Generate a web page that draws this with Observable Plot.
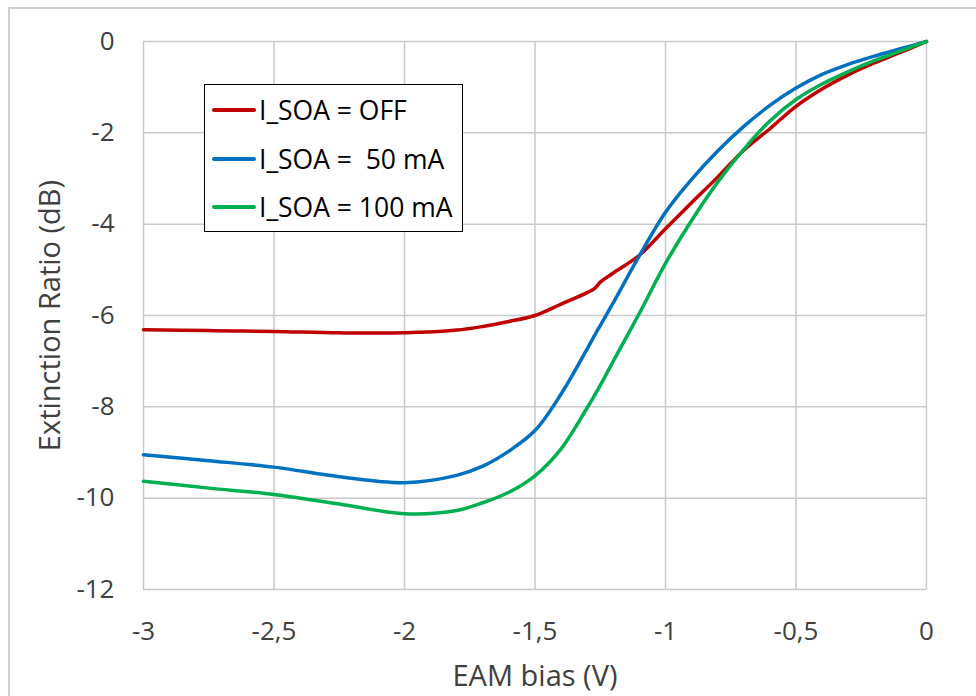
<!DOCTYPE html>
<html>
<head>
<meta charset="utf-8">
<script src="https://cdn.jsdelivr.net/npm/d3@7"></script>
<script src="https://cdn.jsdelivr.net/npm/@observablehq/plot@0.6"></script>
<style>
  html, body { margin: 0; padding: 0; background: #fff; overflow: hidden; width: 976px; height: 696px; }
  #wrap { position: relative; width: 976px; height: 696px; }
  #frame { position: absolute; left: 8px; top: 7px; width: 1000px; height: 720px; border: 2px solid #d0d0d0; box-sizing: border-box; pointer-events: none; }
  #legend { position: absolute; left: 204px; top: 84px; width: 259px; height: 148px; border: 1.6px solid #000; background: #fff; box-sizing: border-box; font-family: "Open Sans", sans-serif; font-size: 26.5px; color: #000; }
  .row { position: absolute; left: 0; height: 30px; display: flex; align-items: center; white-space: pre; }
  .sw { width: 44px; height: 4px; border-radius: 2px; margin-left: 7px; margin-right: 3px; }
</style>
</head>
<body>
<div id="wrap">
  <div id="chart"></div>
  <div id="legend"></div>
  <div id="frame"></div>
</div>
<script>
// EAM bias (V)
const bias = [-3, -2.75, -2.5, -2.25, -2, -1.8, -1.7, -1.6, -1.5, -1.4, -1.3, -1.27, -1.25, -1.2, -1.1, -1.0, -0.9, -0.8, -0.7, -0.6, -0.5, -0.4, -0.3, -0.2, -0.1, 0];
// Extinction ratio (dB)
const ratioOff = [-6.31, -6.33, -6.35, -6.38, -6.38, -6.32, -6.24, -6.13, -6.00, -5.75, -5.50, -5.40, -5.27, -5.07, -4.68, -4.10, -3.53, -2.97, -2.38, -1.91, -1.42, -1.04, -0.73, -0.47, -0.24, 0];
const ratio50  = [-9.05, -9.18, -9.32, -9.53, -9.66, -9.50, -9.30, -8.97, -8.52, -7.72, -6.73, -6.42, -6.22, -5.72, -4.69, -3.74, -3.02, -2.40, -1.86, -1.40, -1.02, -0.72, -0.50, -0.32, -0.16, 0];
const ratio100 = [-9.63, -9.78, -9.92, -10.13, -10.34, -10.27, -10.10, -9.87, -9.51, -8.92, -8.02, -7.73, -7.53, -7.00, -5.95, -4.86, -3.92, -3.08, -2.36, -1.74, -1.27, -0.93, -0.66, -0.42, -0.21, 0];

const seriesNames = ["I_SOA = OFF", "I_SOA =  50 mA", "I_SOA = 100 mA"];
const seriesColors = ["#c00000", "#0070c0", "#00b050"];
const xTicks = [-3, -2.5, -2, -1.5, -1, -0.5, 0];
const yTicks = [-12, -10, -8, -6, -4, -2, 0];
const xLabel = "EAM bias (V)";
const yLabel = "Extinction Ratio (dB)";

const seriesValues = [ratioOff, ratio50, ratio100];
const data = seriesValues.flatMap((vals, s) => bias.map((b, i) => ({bias: b, ratio: vals[i], series: seriesNames[s]})));

const grid = {stroke: "#c9c9c9", strokeOpacity: 1, strokeWidth: 1.5};
const xFmt = d => String(d).replace(".", ",");
const yFmt = d => String(d);

const chart = Plot.plot({
  width: 976,
  height: 696,
  marginLeft: 143,
  marginRight: 50,
  marginTop: 41,
  marginBottom: 107,
  style: {fontFamily: "'Open Sans', sans-serif", fontSize: "26px", color: "#404040", background: "transparent", overflow: "visible"},
  x: {domain: [-3, 0], label: null},
  y: {domain: [-12, 0], label: null},
  color: {domain: seriesNames, range: seriesColors},
  marks: [
    Plot.gridX(xTicks, grid),
    Plot.gridY(yTicks, grid),
    Plot.axisX({ticks: xTicks, tickFormat: xFmt, tickSize: 0, tickPadding: 32, label: null, fill: "#404040", fontSize: 26}),
    Plot.axisY({ticks: yTicks, tickFormat: yFmt, tickSize: 0, tickPadding: 29, label: null, fill: "#404040", fontSize: 26}),
    Plot.line(data, {x: "bias", y: "ratio", z: "series", stroke: "series", strokeWidth: 3.5, curve: "catmull-rom"}),
    Plot.text([xLabel], {frameAnchor: "bottom", textAnchor: "middle", lineAnchor: "middle", dy: 87, fontSize: 29, fill: "#404040"}),
    Plot.text([yLabel], {frameAnchor: "left", textAnchor: "middle", lineAnchor: "middle", dx: -93, dy: 0, rotate: -90, fontSize: 29, fill: "#404040"})
  ]
});
document.getElementById("chart").appendChild(chart);

const legend = document.getElementById("legend");
const rowTops = [10, 59, 107];
seriesNames.forEach((name, i) => {
  const row = document.createElement("div");
  row.className = "row";
  row.style.top = rowTops[i] + "px";
  const sw = document.createElement("div");
  sw.className = "sw";
  sw.style.background = seriesColors[i];
  const t = document.createElement("span");
  t.textContent = name;
  row.appendChild(sw);
  row.appendChild(t);
  legend.appendChild(row);
});
</script>
</body>
</html>
